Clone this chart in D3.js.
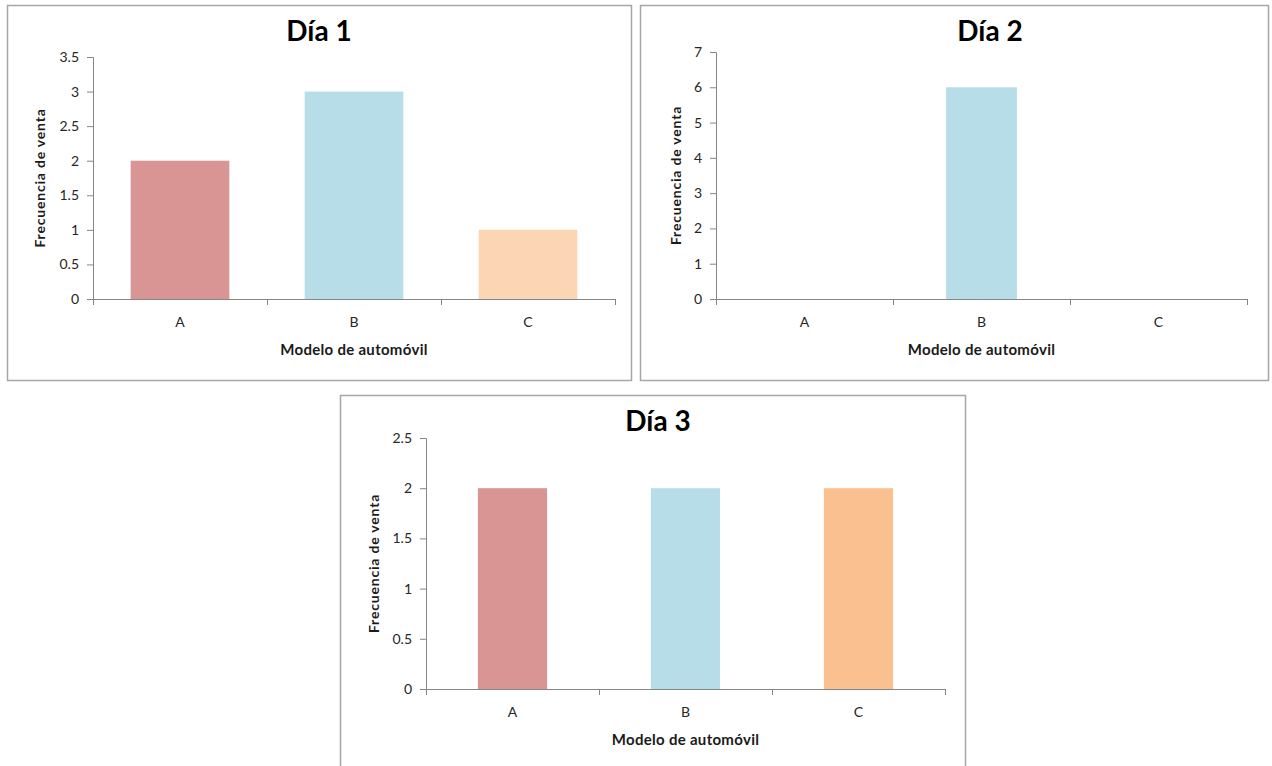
<!DOCTYPE html>
<html><head><meta charset="utf-8">
<script src="https://cdn.jsdelivr.net/npm/d3@7"></script>
<style>
html,body{margin:0;padding:0;background:#fff;}
svg{display:block;}
</style></head>
<body>
<svg id="chart" width="1272" height="766"></svg>
<script>
// ---- data ----
const categories = ["A", "B", "C"];
const titles = ["Día 1", "Día 2", "Día 3"];
const day1Values = [2, 3, 1];
const day2Values = [0, 6, 0];
const day3Values = [2, 2, 2];
const day1Ticks = [0, 0.5, 1, 1.5, 2, 2.5, 3, 3.5];
const day2Ticks = [0, 1, 2, 3, 4, 5, 6, 7];
const day3Ticks = [0, 0.5, 1, 1.5, 2, 2.5];
const day1Colors = ["#d99594", "#b7dde8", "#fcd5b5"];
const day2Colors = ["#d99594", "#b7dde8", "#fac090"];
const day3Colors = ["#d99594", "#b7dde8", "#fac090"];
const yAxisTitle = "Frecuencia de venta";
const xAxisTitle = "Modelo de automóvil";

// ---- layout ----
const panels = [
  {title: titles[0], values: day1Values, ticks: day1Ticks, colors: day1Colors,
   box: [7, 5, 624, 375], plot: {x0: 93, x1: 615, y0: 299, y1: 57}, pad: 0.433, titleX: 319, titleY: 41, yTitleOff: 48},
  {title: titles[1], values: day2Values, ticks: day2Ticks, colors: day2Colors,
   box: [640, 5, 628, 375], plot: {x0: 716, x1: 1247, y0: 299, y1: 52}, pad: 0.60, titleX: 990, titleY: 41, yTitleOff: 35},
  {title: titles[2], values: day3Values, ticks: day3Ticks, colors: day3Colors,
   box: [340, 395, 625, 380], plot: {x0: 426, x1: 945, y0: 689, y1: 438}, pad: 0.60, titleX: 658, titleY: 431, yTitleOff: 47}
];

const svg = d3.select("#chart");
const FONT = "Lato, 'Open Sans', sans-serif";

panels.forEach(p => {
  const g = svg.append("g");
  g.append("rect")
    .attr("x", p.box[0] + 0.5).attr("y", p.box[1] + 0.5)
    .attr("width", p.box[2]).attr("height", p.box[3])
    .attr("fill", "#fff").attr("stroke", "#a6a6a6").attr("stroke-width", 1.5);

  const x = d3.scaleBand().domain(categories).range([p.plot.x0, p.plot.x1]).paddingInner(p.pad).paddingOuter(p.pad / 2);
  const xb = d3.scaleBand().domain(categories).range([p.plot.x0, p.plot.x1]);
  const y = d3.scaleLinear().domain([0, d3.max(p.ticks)]).range([p.plot.y0, p.plot.y1]);

  // bars
  g.selectAll("rect.bar").data(categories.map((c, i) => ({c, v: p.values[i], col: p.colors[i]})).filter(d => d.v > 0))
    .enter().append("rect").attr("class", "bar")
    .attr("x", d => x(d.c)).attr("width", x.bandwidth())
    .attr("y", d => y(d.v)).attr("height", d => y(0) - y(d.v))
    .attr("fill", d => d.col);

  // y axis
  const ya = d3.axisLeft(y).tickValues(p.ticks).tickSize(6).tickPadding(8).tickFormat(d3.format("~g"));
  const yg = g.append("g").attr("transform", `translate(${p.plot.x0},0)`).call(ya);
  yg.select(".domain").attr("stroke", "#868686").attr("d", `M-6,${p.plot.y1 + 0.5}H0.5V${p.plot.y0 + 0.5}`);
  yg.selectAll(".tick line").attr("stroke", "#868686");
  yg.selectAll(".tick text").attr("fill", "#262626").style("font-family", FONT).style("font-size", "14px");

  // x axis
  const xg = g.append("g").attr("transform", `translate(0,${p.plot.y0})`);
  xg.append("line").attr("x1", p.plot.x0).attr("x2", p.plot.x1).attr("y1", 0.5).attr("y2", 0.5).attr("stroke", "#868686");
  const bounds = categories.map(c => xb(c)).concat([p.plot.x1]);
  xg.selectAll("line.tk").data(bounds).enter().append("line").attr("class", "tk")
    .attr("x1", d => d + 0.5).attr("x2", d => d + 0.5).attr("y1", 0).attr("y2", 6).attr("stroke", "#868686");
  xg.selectAll("text.lab").data(categories).enter().append("text").attr("class", "lab")
    .attr("x", d => xb(d) + xb.bandwidth() / 2).attr("y", 28)
    .attr("text-anchor", "middle").attr("fill", "#262626")
    .style("font-family", FONT).style("font-size", "14px").text(d => d);

  // axis titles
  g.append("text").attr("x", (p.plot.x0 + p.plot.x1) / 2).attr("y", p.plot.y0 + 56)
    .attr("text-anchor", "middle").attr("fill", "#1a1a1a")
    .style("font-family", FONT).style("font-size", "15px").style("font-weight", "bold")
    .style("letter-spacing", "0.3px").text(xAxisTitle);
  g.append("text")
    .attr("transform", `translate(${p.plot.x0 - p.yTitleOff},${(p.plot.y0 + p.plot.y1) / 2}) rotate(-90)`)
    .attr("text-anchor", "middle").attr("fill", "#1a1a1a")
    .style("font-family", FONT).style("font-size", "14px").style("font-weight", "bold")
    .style("letter-spacing", "0.8px").text(yAxisTitle);

  // title
  g.append("text").attr("x", p.titleX).attr("y", p.titleY).attr("text-anchor", "middle").attr("fill", "#000")
    .style("font-family", FONT).style("font-size", "28px").style("font-weight", "bold").text(p.title);
});
</script>
</body></html>
